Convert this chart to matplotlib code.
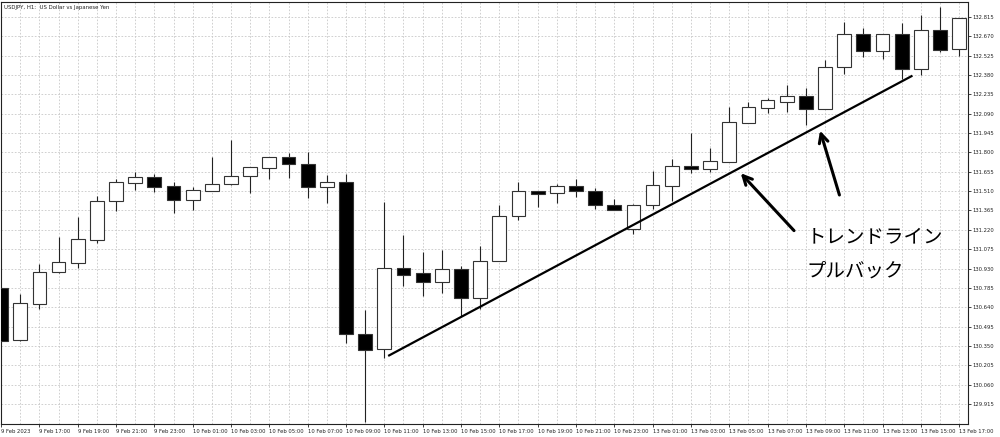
import numpy as np
import pandas as pd
import matplotlib
matplotlib.use("Agg")
import matplotlib.pyplot as plt
from matplotlib.ticker import FixedLocator

# USDJPY H1 candles, 9 Feb 15:00 .. 13 Feb 17:00 (weekend skipped)
times = list(pd.date_range("2023-02-09 15:00", "2023-02-10 23:00", freq="h")) + \
        list(pd.date_range("2023-02-13 00:00", "2023-02-13 17:00", freq="h"))

opens = [130.784, 130.395, 130.664, 130.902, 130.974, 131.146, 131.434, 131.573, 131.614, 131.549,
         131.441, 131.513, 131.561, 131.621, 131.686, 131.764, 131.713, 131.543, 131.576, 130.437,
         130.325, 130.932, 130.894, 130.827, 130.924, 130.712, 130.989, 131.322, 131.509, 131.496,
         131.549, 131.509, 131.404, 131.229, 131.404, 131.549, 131.696, 131.674, 131.731, 132.021,
         132.135, 132.180, 132.225, 132.128, 132.438, 132.685, 132.562, 132.688, 132.423, 132.715,
         132.573]
highs = [130.790, 130.739, 130.964, 131.164, 131.314, 131.476, 131.599, 131.651, 131.636, 131.581,
         131.539, 131.768, 131.893, 131.692, 131.766, 131.798, 131.806, 131.631, 131.636, 130.619,
         131.431, 131.181, 131.056, 131.069, 130.951, 131.099, 131.406, 131.581, 131.511, 131.564,
         131.599, 131.531, 131.453, 131.413, 131.661, 131.749, 131.944, 131.831, 132.143, 132.178,
         132.210, 132.305, 132.285, 132.493, 132.778, 132.730, 132.687, 132.768, 132.830, 132.888,
         132.806]
lows = [130.387, 130.389, 130.627, 130.900, 130.936, 131.124, 131.364, 131.519, 131.506, 131.344,
        131.369, 131.510, 131.558, 131.498, 131.601, 131.611, 131.456, 131.423, 130.370, 129.782,
        130.258, 130.802, 130.724, 130.745, 130.574, 130.625, 130.986, 131.294, 131.394, 131.423,
        131.464, 131.376, 131.366, 131.189, 131.376, 131.436, 131.648, 131.654, 131.728, 132.019,
        132.098, 132.101, 132.006, 132.125, 132.388, 132.518, 132.502, 132.350, 132.378, 132.555,
        132.525]
closes = [130.389, 130.670, 130.906, 130.977, 131.151, 131.436, 131.576, 131.614, 131.543, 131.441,
          131.516, 131.561, 131.621, 131.689, 131.764, 131.711, 131.543, 131.576, 130.437, 130.320,
          130.932, 130.884, 130.827, 130.924, 130.712, 130.989, 131.322, 131.509, 131.491, 131.546,
          131.509, 131.406, 131.369, 131.408, 131.554, 131.698, 131.678, 131.734, 132.026, 132.137,
          132.193, 132.225, 132.128, 132.438, 132.685, 132.562, 132.685, 132.428, 132.715, 132.568,
          132.805]

price_ticks = ["129.915", "130.060", "130.205", "130.350", "130.495", "130.640", "130.785",
               "130.930", "131.075", "131.220", "131.365", "131.510", "131.655", "131.800",
               "131.945", "132.090", "132.235", "132.380", "132.525", "132.670", "132.815"]

# trend line (bar index, price)
trend_x = [20.2, 47.56]
trend_y = [130.275, 132.375]

label1 = "トレンドライン"
label2 = "プルバック"
title = "USDJPY, H1:  US Dollar vs Japanese Yen"

n = len(opens)
x = np.arange(n)
o = np.array(opens); h = np.array(highs); l = np.array(lows); c = np.array(closes)
up = c >= o

fig = plt.figure(figsize=(10, 4.37), dpi=100)
ax = fig.add_axes([0.001, 13 / 437, 0.967, 422 / 437])

ax.vlines(x, l, h, color="#222222", lw=0.8, zorder=2)
body_h = np.maximum(np.abs(c - o), 0.012)
ax.bar(x, body_h, bottom=np.minimum(o, c), width=0.72,
       color=np.where(up, "white", "black"), edgecolor="#333333", lw=0.8, zorder=3)

ax.plot(trend_x, trend_y, color="black", lw=1.6, zorder=4, solid_capstyle="butt")

arrow = dict(arrowstyle="->", lw=2.2, color="black", mutation_scale=16, shrinkA=0, shrinkB=0)
ax.annotate("", xy=(38.6, 131.644), xytext=(41.38, 131.214), arrowprops=arrow, zorder=5)
ax.annotate("", xy=(42.74, 131.963), xytext=(43.75, 131.481), arrowprops=arrow, zorder=5)

jp = ["Noto Sans CJK JP", "DejaVu Sans"]
ax.text(42.05, 131.121, label1, family=jp, fontsize=14, ha="left", va="baseline", zorder=6)
ax.text(42.05, 130.867, label2, family=jp, fontsize=14, ha="left", va="baseline", zorder=6)

ax.set_xlim(-0.005, 50.46)
ax.set_ylim(129.765, 132.927)

# x ticks: labels every 2 bars, grid every bar
xt = x[::2]
xlabels = []
for i in xt:
    t = times[i]
    if i == 0:
        xlabels.append(f"{t.day} {t.strftime('%b %Y')}")
    else:
        xlabels.append(f"{t.day} {t.strftime('%b %H:%M')}")
ax.set_xticks(xt)
ax.set_xticklabels(xlabels)
ax.xaxis.set_minor_locator(FixedLocator(x))
for lbl in ax.get_xticklabels():
    lbl.set_horizontalalignment("left")

yt = [float(v) for v in price_ticks]
ax.yaxis.tick_right()
ax.set_yticks(yt)
ax.set_yticklabels(price_ticks)

ax.tick_params(axis="x", which="major", length=2.5, width=0.6, pad=1, labelsize=3.8, colors="#222222")
ax.tick_params(axis="x", which="minor", length=0)
ax.tick_params(axis="y", length=2.5, width=0.6, pad=1, labelsize=3.8, colors="#222222")

ax.grid(True, which="both", axis="x", color="#c8c8c8", lw=0.6, ls=(0, (2, 2)), zorder=0)
ax.grid(True, which="major", axis="y", color="#c8c8c8", lw=0.6, ls=(0, (2, 2)), zorder=0)
ax.set_axisbelow(True)
for s in ax.spines.values():
    s.set_color("#222222")
    s.set_linewidth(0.8)

fig.text(0.004, 1 - 7 / 437, title, fontsize=3.9, ha="left", va="center", color="#222222")

fig.savefig("out.png", dpi=100)
